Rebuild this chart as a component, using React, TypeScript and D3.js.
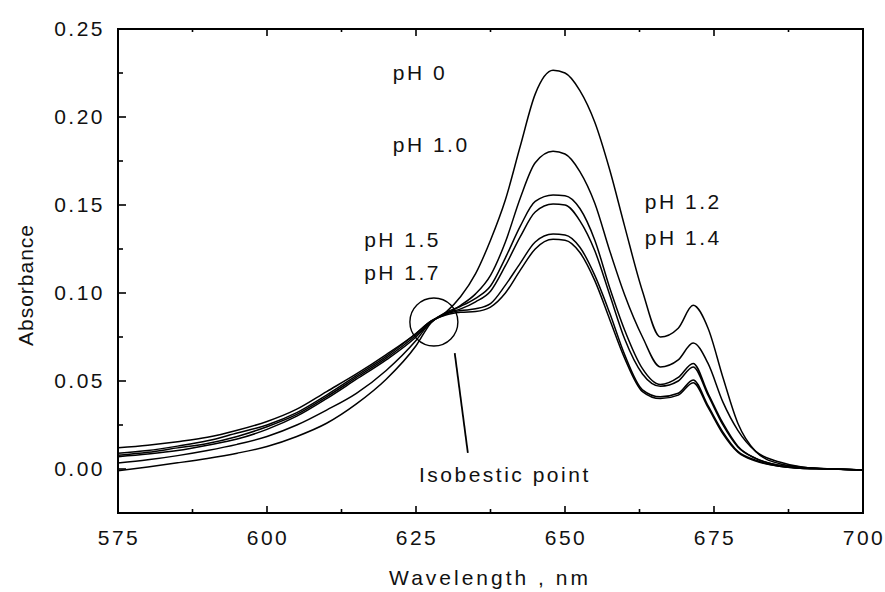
import React, { useLayoutEffect } from "react";
import * as d3 from "d3";

const wavelengths = [575, 580, 585, 590, 595, 600, 605, 610, 615, 620, 625, 627.5, 630, 632.5, 635, 637.5, 640, 642.5, 645, 648, 650, 652.5, 655, 657.5, 660, 663, 666, 669, 671.5, 674, 676.5, 679, 682, 686, 690, 695, 700];

const ph0 = [-0.001, 0.0012, 0.0035, 0.006, 0.009, 0.0128, 0.0185, 0.026, 0.037, 0.051, 0.07, 0.083, 0.089, 0.098, 0.111, 0.13, 0.153, 0.1835, 0.213, 0.2265, 0.225, 0.215, 0.197, 0.17, 0.138, 0.101, 0.075, 0.08, 0.093, 0.08, 0.052, 0.026, 0.01, 0.003, 0.001, 0.0, -0.0005];
const ph10 = [0.0034, 0.0052, 0.0076, 0.0105, 0.014, 0.0185, 0.025, 0.0335, 0.043, 0.056, 0.073, 0.0835, 0.088, 0.093, 0.0995, 0.11, 0.129, 0.154, 0.174, 0.1805, 0.179, 0.169, 0.151, 0.124, 0.099, 0.075, 0.058, 0.062, 0.0716, 0.06, 0.038, 0.022, 0.01, 0.004, 0.001, 0.0, -0.0005];
const ph12 = [0.007, 0.0085, 0.0105, 0.0135, 0.017, 0.0225, 0.03, 0.04, 0.051, 0.062, 0.075, 0.0835, 0.089, 0.0925, 0.097, 0.104, 0.12, 0.138, 0.152, 0.1557, 0.1553, 0.148, 0.13, 0.103, 0.079, 0.057, 0.048, 0.052, 0.06, 0.043, 0.026, 0.013, 0.006, 0.002, 0.0005, 0.0, -0.0005];
const ph14 = [0.0078, 0.0095, 0.012, 0.0145, 0.0185, 0.024, 0.031, 0.041, 0.052, 0.063, 0.076, 0.0835, 0.0885, 0.091, 0.095, 0.101, 0.1155, 0.132, 0.146, 0.1505, 0.15, 0.141, 0.124, 0.099, 0.074, 0.054, 0.047, 0.05, 0.058, 0.042, 0.025, 0.0125, 0.006, 0.002, 0.0005, 0.0, -0.0005];
const ph15 = [0.009, 0.0105, 0.013, 0.016, 0.0205, 0.025, 0.032, 0.042, 0.053, 0.064, 0.077, 0.084, 0.088, 0.09, 0.091, 0.094, 0.1045, 0.117, 0.129, 0.1335, 0.133, 0.126, 0.11, 0.0886, 0.065, 0.045, 0.041, 0.043, 0.0506, 0.036, 0.021, 0.01, 0.005, 0.0015, 0.0003, 0.0, -0.0005];
const ph17 = [0.012, 0.0135, 0.0155, 0.018, 0.022, 0.027, 0.034, 0.044, 0.054, 0.065, 0.077, 0.084, 0.0875, 0.089, 0.0895, 0.092, 0.1, 0.113, 0.125, 0.1305, 0.13, 0.123, 0.107, 0.085, 0.063, 0.044, 0.04, 0.042, 0.049, 0.035, 0.02, 0.0095, 0.0045, 0.0015, 0.0003, 0.0, -0.0005];

const seriesList = [ph0, ph10, ph12, ph14, ph15, ph17];

const xTicks = [575, 600, 625, 650, 675, 700];
const xMinorTicks = [587.5, 612.5, 637.5, 662.5, 687.5];
const yTicks = [0, 0.05, 0.1, 0.15, 0.2, 0.25];
const yMinorTicks = [0.025, 0.075, 0.125, 0.175, 0.225];

const labelTexts = ["pH 0", "pH 1.0", "pH 1.5", "pH 1.7", "pH 1.2", "pH 1.4", "Isobestic point"];
const labelW = [621.1, 621.1, 616.3, 616.3, 663.4, 663.4, 625.5];
const labelA = [0.221, 0.18, 0.126, 0.1074, 0.148, 0.127, -0.0074];

const isoPoint = [628.0, 0.0835];
const pointerFrom = [631.5, 0.0659];
const pointerTo = [633.7, 0.0091];

const W = 885;
const H = 592;
const M = { left: 118, right: 863, top: 29, bottom: 513 };
const FONT = "'Liberation Sans', Arial, sans-serif";

export default function App() {
  useLayoutEffect(() => {
    document.body.style.margin = "0";
  }, []);

  const x = d3.scaleLinear().domain([575, 700]).range([M.left, M.right]);
  const y = d3.scaleLinear().domain([-0.025, 0.25]).range([M.bottom, M.top]);

  const line = d3
    .line<number>()
    .x((_, i) => x(wavelengths[i]))
    .y((d) => y(d))
    .curve(d3.curveMonotoneX);

  return (
    <svg width={W} height={H} style={{ display: "block", background: "#fff" }}>
      <g fill="none" stroke="#000" strokeWidth={1.5}>
        {seriesList.map((s, i) => (
          <path key={i} d={line(s) || ""} />
        ))}
      </g>
      <rect x={M.left} y={M.top} width={M.right - M.left} height={M.bottom - M.top} fill="none" stroke="#000" strokeWidth={2} />
      <g stroke="#000" strokeWidth={1.6}>
        {xTicks.map((t) => (
          <g key={"xt" + t}>
            <line x1={x(t)} x2={x(t)} y1={M.bottom} y2={M.bottom - 7} />
            <line x1={x(t)} x2={x(t)} y1={M.top} y2={M.top + 7} />
          </g>
        ))}
        {xMinorTicks.map((t) => (
          <g key={"xm" + t}>
            <line x1={x(t)} x2={x(t)} y1={M.bottom} y2={M.bottom - 4} />
            <line x1={x(t)} x2={x(t)} y1={M.top} y2={M.top + 3} />
          </g>
        ))}
        {yTicks.map((t) => (
          <line key={"yt" + t} x1={M.left} x2={M.left + 8} y1={y(t)} y2={y(t)} />
        ))}
        {yMinorTicks.map((t) => (
          <line key={"ym" + t} x1={M.left} x2={M.left + 5} y1={y(t)} y2={y(t)} />
        ))}
      </g>
      <g fontFamily={FONT} fontSize={21} fill="#111" style={{ letterSpacing: "2.5px" }}>
        {xTicks.map((t) => (
          <text key={"xl" + t} x={x(t) + 1} y={545} textAnchor="middle">
            {String(t)}
          </text>
        ))}
        {yTicks.map((t) => (
          <text key={"yl" + t} x={105} y={y(t)} dy="0.35em" textAnchor="end">
            {t.toFixed(2)}
          </text>
        ))}
        <text x={490} y={585} textAnchor="middle" style={{ letterSpacing: "3px" }}>
          Wavelength , nm
        </text>
        <text transform={`translate(33,285) rotate(-90)`} textAnchor="middle" style={{ letterSpacing: "1px" }}>
          Absorbance
        </text>
        {labelTexts.map((t, i) => (
          <text key={"lab" + i} x={x(labelW[i])} y={y(labelA[i])}>
            {t}
          </text>
        ))}
      </g>
      <circle cx={x(isoPoint[0])} cy={y(isoPoint[1])} r={24} fill="none" stroke="#000" strokeWidth={1.4} />
      <line x1={x(pointerFrom[0])} y1={y(pointerFrom[1])} x2={x(pointerTo[0])} y2={y(pointerTo[1])} stroke="#000" strokeWidth={1.8} />
    </svg>
  );
}
